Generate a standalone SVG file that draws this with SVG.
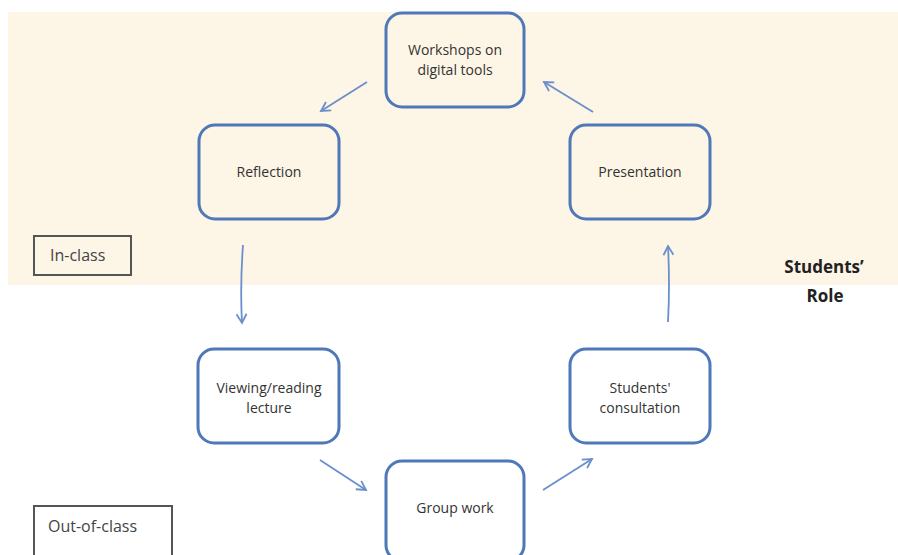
<svg xmlns="http://www.w3.org/2000/svg" width="898" height="555" viewBox="0 0 898 555">
<style>
.node rect{fill:none;stroke:#4f78b8;stroke-width:3}
.node text{font-family:"Open Sans","Liberation Sans",sans-serif;font-size:14px;fill:#333;text-anchor:middle}
.lbl rect{fill:none;stroke:#555;stroke-width:2}
.lbl text{font-family:"Open Sans","Liberation Sans",sans-serif;font-size:16px;fill:#444}
.conn path{fill:none;stroke:#6a8fcc;stroke-width:1.8}
.role{font-family:"Open Sans","Liberation Sans",sans-serif;font-size:17px;font-weight:bold;fill:#222;text-anchor:middle}
</style>
<defs>
<marker id="ah" viewBox="0 0 12 12" refX="10" refY="6" markerWidth="12" markerHeight="12" markerUnits="userSpaceOnUse" orient="auto">
<path d="M1,1 L10,6 L1,11" fill="none" stroke="#6a8fcc" stroke-width="1.8"/>
</marker>
</defs>
<rect x="0" y="0" width="898" height="555" fill="#ffffff"/>
<rect x="8" y="12" width="890" height="273" fill="#fdf5e6"/>
<g class="conn">
<path d="M367,82 L321,111" marker-end="url(#ah)"/>
<path d="M593,112 L544,82" marker-end="url(#ah)"/>
<path d="M243,245 Q240,285 242,323" marker-end="url(#ah)"/>
<path d="M668,322 Q670,285 668,246" marker-end="url(#ah)"/>
<path d="M320,460 L366,490" marker-end="url(#ah)"/>
<path d="M543,490 L592,459" marker-end="url(#ah)"/>
</g>
<g id="workshops" class="node"><rect x="386" y="13" width="138" height="94" rx="16"/><text x="455" y="55">Workshops on</text><text x="455" y="75">digital tools</text></g>
<g id="reflection" class="node"><rect x="199" y="125" width="140" height="94" rx="16"/><text x="269" y="177">Reflection</text></g>
<g id="presentation" class="node"><rect x="570" y="125" width="140" height="94" rx="16"/><text x="640" y="177">Presentation</text></g>
<g id="viewing" class="node"><rect x="198" y="349" width="141" height="94" rx="16"/><text x="269" y="393">Viewing/reading</text><text x="269" y="413">lecture</text></g>
<g id="consultation" class="node"><rect x="570" y="349" width="140" height="94" rx="16"/><text x="640" y="393">Students'</text><text x="640" y="413">consultation</text></g>
<g id="groupwork" class="node"><rect x="386" y="461" width="138" height="100" rx="16"/><text x="455" y="513">Group work</text></g>
<g id="inclass" class="lbl"><rect x="34" y="236" width="97" height="39"/><text x="50" y="261">In-class</text></g>
<g id="outofclass" class="lbl"><rect x="34" y="506" width="138" height="60"/><text x="48" y="532">Out-of-class</text></g>
<g id="role"><text class="role" x="824" y="273">Students’</text><text class="role" x="825" y="302">Role</text></g>
</svg>
